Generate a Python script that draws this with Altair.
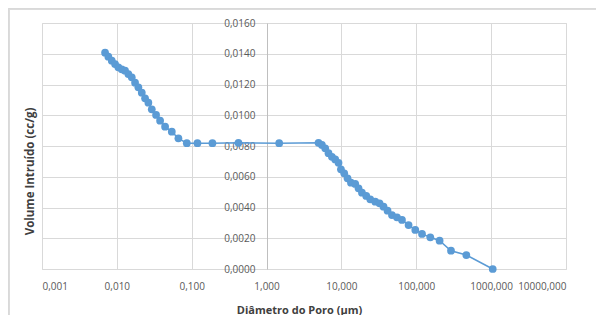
import altair as alt
import pandas as pd

diametro = [
    0.00696, 0.00770, 0.00855, 0.00946, 0.01047, 0.01163, 0.01287, 0.01425,
    0.01582, 0.01751, 0.01938, 0.02152, 0.02382, 0.02637, 0.02928, 0.03342,
    0.03781, 0.04410, 0.05420, 0.06642, 0.0860, 0.1192, 0.1891, 0.4210, 1.474,
    4.942, 5.487, 6.073, 6.723, 7.464, 8.263, 9.147, 9.847, 10.90, 12.07,
    13.40, 15.29, 16.93, 18.80, 21.46, 24.27, 28.31, 32.31, 36.53, 41.32,
    47.32, 55.21, 64.40, 78.90, 96.96, 119.2, 153.9, 204.9, 290.9, 466.1, 1050.0,
]
volume = [
    0.01407, 0.01381, 0.01355, 0.01333, 0.01312, 0.01299, 0.01290, 0.01268,
    0.01247, 0.01212, 0.01182, 0.01147, 0.01110, 0.01082, 0.01039, 0.01002,
    0.00965, 0.00926, 0.00893, 0.00850, 0.00818, 0.00818, 0.00818, 0.00821, 0.00818,
    0.00821, 0.00807, 0.00785, 0.00753, 0.00730, 0.00713, 0.00691, 0.00648, 0.00622, 0.00590,
    0.00561, 0.00553, 0.00525, 0.00496, 0.00475, 0.00453, 0.00438, 0.00427, 0.00405, 0.00379,
    0.00351, 0.00336, 0.00319, 0.00286, 0.00254, 0.00228, 0.00206, 0.00184, 0.00119, 0.00091, 0.0,
]
x_ticks = [0.001, 0.01, 0.1, 1, 10, 100, 1000, 10000]
y_ticks = [0.0, 0.002, 0.004, 0.006, 0.008, 0.010, 0.012, 0.014, 0.016]

df = pd.DataFrame({"d": diametro, "v": volume, "i": list(range(len(diametro)))})

W, H = 524, 246
BLUE = "#5B9BD5"
FONT = "Open Sans"

x = alt.X(
    "d:Q",
    scale=alt.Scale(type="log", domain=[0.001, 10000], nice=False),
    axis=alt.Axis(
        values=x_ticks,
        labelExpr="replace(format(datum.value, '.3f'), '.', ',')",
        title="Diâmetro do Poro (µm)",
        titleFont=FONT, titleFontSize=11, titleFontWeight="bold", titleColor="#404040",
        titleX=257, titleAlign="center", titlePadding=13,
        labelFont=FONT, labelFontSize=10, labelColor="#595959", labelPadding=12,
        grid=True, gridColor="#D9D9D9", gridWidth=1,
        domain=False, ticks=False,
    ),
)
y = alt.Y(
    "v:Q",
    scale=alt.Scale(domain=[0, 0.016], nice=False),
    axis=alt.Axis(
        values=y_ticks,
        labelExpr="replace(format(datum.value, '.4f'), '.', ',')",
        title="Volume Intruído (cc/g)",
        titleFont=FONT, titleFontSize=11.5, titleFontWeight="bold", titleColor="#404040",
        titleX=-237, titleY=148, titleAngle=-90, titleAlign="center", titleBaseline="middle",
        labelFont=FONT, labelFontSize=10, labelColor="#595959", labelPadding=12,
        labelBaseline="middle",
        grid=True, gridColor="#D9D9D9", gridWidth=1,
        domain=True, domainColor="#BFBFBF", domainWidth=1,
        ticks=False, offset=-225,
    ),
)

line = alt.Chart(df).mark_line(color=BLUE, strokeWidth=1.5).encode(x=x, y=y, order="i:Q")
pts = alt.Chart(df).mark_circle(color=BLUE, size=60, opacity=1).encode(x=x, y=y)

frame_top = alt.Chart(df).mark_rule(color="#D9D9D9", strokeWidth=1.5).encode(
    x=alt.value(-33.5), x2=alt.value(W + 40), y=alt.value(-14.5)
)
frame_left = alt.Chart(df).mark_rule(color="#D9D9D9", strokeWidth=1.5).encode(
    x=alt.value(-33.5), y=alt.value(-14.5), y2=alt.value(H + 60)
)

chart = (
    alt.layer(frame_top, frame_left, line, pts)
    .properties(
        width=W, height=H,
        autosize=alt.AutoSizeParams(type="none"),
        padding={"left": 34, "top": 15, "right": 30, "bottom": 46},
    )
    .configure_view(stroke="#D9D9D9", strokeWidth=1)
    .configure(background="white")
)

chart.save("out.html", embed_options={"renderer": "svg", "actions": False})
